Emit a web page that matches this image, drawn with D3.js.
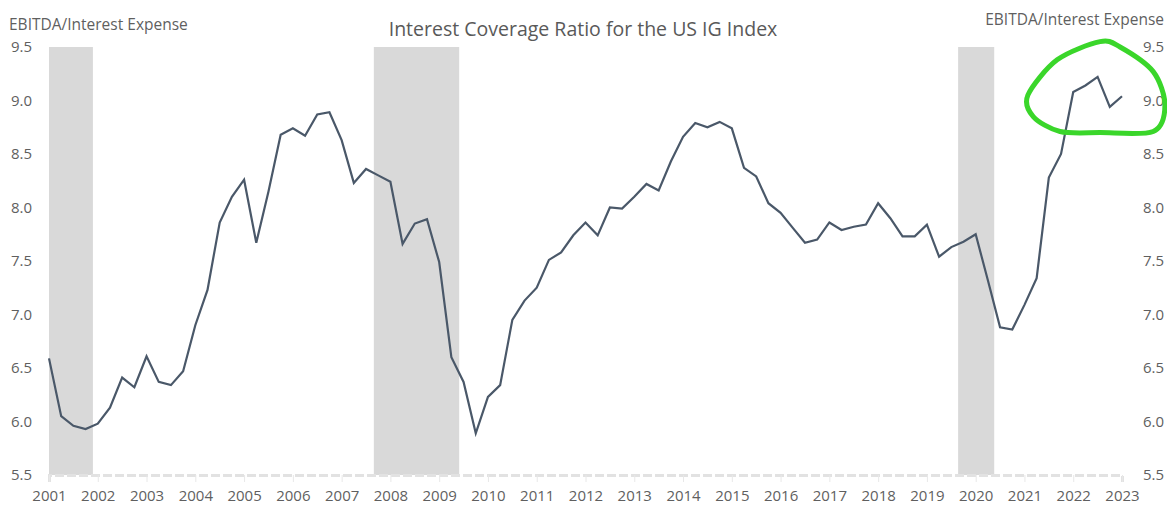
<!DOCTYPE html>
<html>
<head>
<meta charset="utf-8">
<script src="https://cdn.jsdelivr.net/npm/d3@7"></script>
<style>
  body { margin: 0; background: #fff; }
  text { font-family: "Open Sans", "Noto Sans", sans-serif; }
</style>
</head>
<body>
<div id="chart"></div>
<script>
// quarterly EBITDA / interest expense, 2001Q1 .. 2023Q1
const ratio = [
  6.59, 6.05, 5.96, 5.93,
  5.98, 6.13, 6.41, 6.32,
  6.61, 6.37, 6.34, 6.47,
  6.90, 7.23, 7.86, 8.10,
  8.26, 7.67, 8.15, 8.68,
  8.74, 8.67, 8.87, 8.89,
  8.63, 8.23, 8.36, 8.30,
  8.24, 7.66, 7.85, 7.89,
  7.49, 6.60, 6.37, 5.89,
  6.23, 6.34, 6.95, 7.13,
  7.25, 7.51, 7.58, 7.74,
  7.86, 7.74, 8.00, 7.99,
  8.10, 8.22, 8.16, 8.43,
  8.66, 8.79, 8.75, 8.80,
  8.74, 8.37, 8.29, 8.04,
  7.95, 7.81, 7.67, 7.70,
  7.86, 7.79, 7.82, 7.84,
  8.04, 7.90, 7.73, 7.73,
  7.84, 7.54, 7.63, 7.68,
  7.75, 7.32, 6.88, 6.86,
  7.09, 7.34, 8.28, 8.50,
  9.08, 9.14, 9.22, 8.94,
  9.04
];
const firstYear = 2001;
// position of each quarter on the year axis
const quarterPos = ratio.map((v, i) => firstYear + i / 4);

const years = d3.range(2001, 2024);
const yTicks = [5.5, 6.0, 6.5, 7.0, 7.5, 8.0, 8.5, 9.0, 9.5];

// recessions (shaded)
const recStart = [2001.0, 2007.66, 2019.64];
const recEnd   = [2001.9, 2009.41, 2020.38];

// hand-drawn highlight around the latest readings (year, ratio)
const markYear  = [2021.07, 2021.67, 2022.55, 2022.96, 2023.64, 2023.88, 2023.64, 2022.55, 2021.73, 2021.18];
const markValue = [9.05, 9.38, 9.55, 9.50, 9.27, 8.96, 8.71, 8.70, 8.71, 8.85];

const width = 1167;
const height = 508;

const svg = d3.select("#chart")
              .append("svg")
              .attr("width", width)
              .attr("height", height);

const x = d3.scaleLinear()
            .domain([2001, 2023])
            .range([49, 1122]);

const y = d3.scaleLinear()
            .domain([5.5, 9.5])
            .range([475, 47]);

// recession bars
svg.selectAll("rect.rec")
   .data(recStart)
   .enter()
   .append("rect")
   .attr("class", "rec")
   .attr("x", (d, i) => x(d))
   .attr("width", (d, i) => x(recEnd[i]) - x(d))
   .attr("y", y(9.5))
   .attr("height", y(5.5) - y(9.5))
   .attr("fill", "#d9d9d9");

// bottom axis
const xAxis = d3.axisBottom(x)
                .tickValues(years)
                .tickFormat(d3.format("d"))
                .tickSize(7)
                .tickPadding(8);

const gx = svg.append("g")
              .attr("transform", "translate(0," + y(5.5) + ")")
              .call(xAxis);
gx.select(".domain")
  .attr("stroke", "#e2e2e2")
  .attr("stroke-width", 3)
  .attr("stroke-dasharray", "9 3");
gx.selectAll(".tick line").attr("stroke", "#e8e8e8");
gx.selectAll(".tick text")
  .attr("fill", "#5f5f5f")
  .style("font-size", "15px");

// left and right value axes
const yLeft = d3.axisLeft(y)
                .tickValues(yTicks)
                .tickFormat(d3.format(".1f"))
                .tickSize(0)
                .tickPadding(0);
const gl = svg.append("g")
              .attr("transform", "translate(32,0)")
              .call(yLeft);

const yRight = d3.axisRight(y)
                 .tickValues(yTicks)
                 .tickFormat(d3.format(".1f"))
                 .tickSize(0)
                 .tickPadding(0);
const gr = svg.append("g")
              .attr("transform", "translate(1143,0)")
              .call(yRight);

[gl, gr].forEach(g => {
  g.select(".domain").remove();
  g.selectAll(".tick text")
   .attr("fill", "#5f5f5f")
   .style("font-size", "15px");
});

// the ratio line
const line = d3.line()
               .x((d, i) => x(quarterPos[i]))
               .y(d => y(d));

svg.append("path")
   .datum(ratio)
   .attr("d", line)
   .attr("fill", "none")
   .attr("stroke", "#4a5869")
   .attr("stroke-width", 2.2)
   .attr("stroke-linejoin", "miter");

// green highlight loop
const loop = d3.line()
               .x((d, i) => x(markYear[i]))
               .y(d => y(d))
               .curve(d3.curveCardinalClosed.tension(0.1));

svg.append("path")
   .datum(markValue)
   .attr("d", loop)
   .attr("fill", "none")
   .attr("stroke", "#3ad62a")
   .attr("stroke-width", 5);

// titles
svg.append("text")
   .attr("x", 583)
   .attr("y", 36)
   .attr("text-anchor", "middle")
   .attr("fill", "#595959")
   .style("font-size", "19.5px")
   .text("Interest Coverage Ratio for the US IG Index");

svg.append("text")
   .attr("x", 9)
   .attr("y", 30)
   .attr("fill", "#5f5f5f")
   .style("font-size", "15.5px")
   .text("EBITDA/Interest Expense");

svg.append("text")
   .attr("x", 1164)
   .attr("y", 25)
   .attr("text-anchor", "end")
   .attr("fill", "#5f5f5f")
   .style("font-size", "15.5px")
   .text("EBITDA/Interest Expense");
</script>
</body>
</html>
